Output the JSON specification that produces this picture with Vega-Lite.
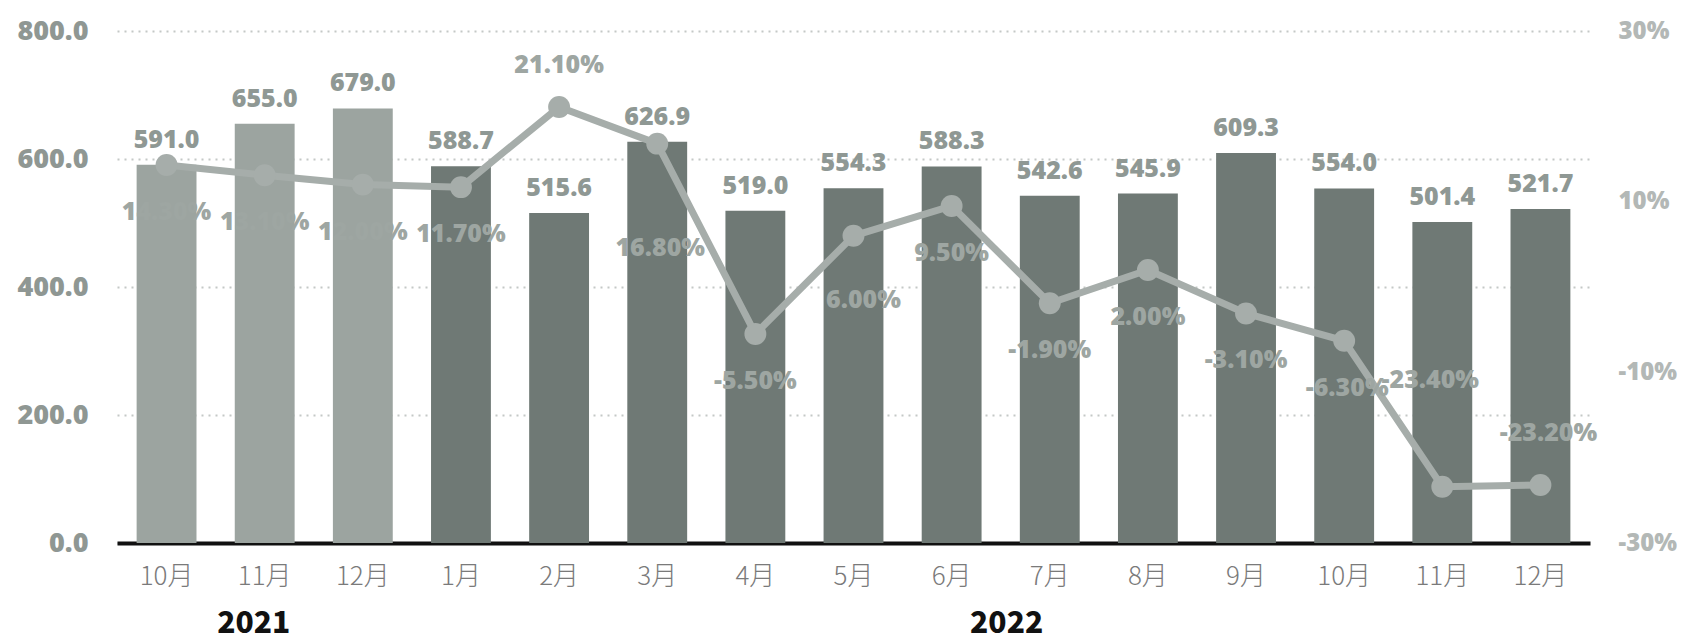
{
  "$schema": "https://vega.github.io/schema/vega-lite/v6.json",
  "width": 1473,
  "height": 512,
  "autosize": {"type": "none"},
  "padding": {"left": 117, "top": 31, "right": 102, "bottom": 99},
  "background": "white",
  "config": {
    "view": {"stroke": null},
    "font": "Open Sans"
  },
  "data": {
    "values": [
      {"key": "2021-10", "sales": 591.0, "pct": 14.3, "pctLabel": "14.30%", "year": "2021"},
      {"key": "2021-11", "sales": 655.0, "pct": 13.1, "pctLabel": "13.10%", "year": "2021"},
      {"key": "2021-12", "sales": 679.0, "pct": 12.0, "pctLabel": "12.00%", "year": "2021"},
      {"key": "2022-01", "sales": 588.7, "pct": 11.7, "pctLabel": "11.70%", "year": "2022"},
      {"key": "2022-02", "sales": 515.6, "pct": 21.1, "pctLabel": "21.10%", "year": "2022"},
      {"key": "2022-03", "sales": 626.9, "pct": 16.8, "pctLabel": "16.80%", "year": "2022"},
      {"key": "2022-04", "sales": 519.0, "pct": -5.5, "pctLabel": "-5.50%", "year": "2022"},
      {"key": "2022-05", "sales": 554.3, "pct": 6.0, "pctLabel": "6.00%", "year": "2022"},
      {"key": "2022-06", "sales": 588.3, "pct": 9.5, "pctLabel": "9.50%", "year": "2022"},
      {"key": "2022-07", "sales": 542.6, "pct": -1.9, "pctLabel": "-1.90%", "year": "2022"},
      {"key": "2022-08", "sales": 545.9, "pct": 2.0, "pctLabel": "2.00%", "year": "2022"},
      {"key": "2022-09", "sales": 609.3, "pct": -3.1, "pctLabel": "-3.10%", "year": "2022"},
      {"key": "2022-10", "sales": 554.0, "pct": -6.3, "pctLabel": "-6.30%", "year": "2022"},
      {"key": "2022-11", "sales": 501.4, "pct": -23.4, "pctLabel": "-23.40%", "year": "2022"},
      {"key": "2022-12", "sales": 521.7, "pct": -23.2, "pctLabel": "-23.20%", "year": "2022"}
    ]
  },
  "layer": [
    {
      "encoding": {
        "x": {
          "field": "key", "type": "nominal", "sort": null,
          "scale": {"paddingInner": 0.39, "paddingOuter": 0.2},
          "axis": {
            "orient": "bottom",
            "title": null,
            "labelAngle": 0,
            "labelExpr": "toNumber(split(datum.value, '-')[1]) + '月'",
            "labelFont": "Noto Sans CJK SC",
            "labelFontWeight": 300,
            "labelFontSize": 26,
            "labelColor": "#7a7a7a",
            "labelPadding": 20,
            "ticks": false,
            "grid": false,
            "domain": true,
            "domainColor": "#111111",
            "domainWidth": 4
          }
        },
        "y": {
          "field": "sales", "type": "quantitative",
          "scale": {"domain": [0, 800]},
          "axis": {
            "title": null,
            "values": [0, 200, 400, 600, 800],
            "format": ".1f",
            "labelFont": "Open Sans",
            "labelFontWeight": 800,
            "labelFontSize": 27,
            "labelColor": "#8f9793",
            "labelPadding": 29,
            "ticks": false,
            "domain": false,
            "grid": true,
            "gridColor": "#c4c8c6",
            "gridDash": [2, 5],
            "gridWidth": 2
          }
        }
      },
      "layer": [
        {
          "mark": {"type": "bar"},
          "encoding": {
            "color": {
              "field": "year", "type": "nominal",
              "scale": {"domain": ["2021", "2022"], "range": ["#9ca4a0", "#6f7975"]},
              "legend": null
            }
          }
        },
        {
          "mark": {"type": "text", "baseline": "alphabetic", "dy": -17, "font": "Open Sans", "fontWeight": 800, "fontSize": 25, "color": "#8f9894"},
          "encoding": {
            "text": {"field": "sales", "type": "quantitative", "format": ".1f"}
          }
        }
      ]
    },
    {
      "encoding": {
        "x": {
          "field": "key", "type": "nominal", "sort": null,
          "axis": {
            "orient": "bottom",
            "title": null,
            "labelAngle": 0,
            "labelExpr": "datum.value == '2021-11' ? '2021' : (datum.value == '2022-06' ? '2022' : '')",
            "labelOffset": {"expr": "datum.value == '2022-06' ? 55 : -11"},
            "labelFont": "Noto Sans CJK SC",
            "labelFontWeight": 900,
            "labelFontSize": 30,
            "labelColor": "#111111",
            "labelPadding": 65,
            "labelOverlap": false,
            "labelBaseline": "top",
            "ticks": false,
            "grid": false,
            "domain": false
          }
        },
        "y": {
          "field": "pct", "type": "quantitative",
          "scale": {"domain": [-30, 30]},
          "axis": {
            "orient": "right",
            "title": null,
            "values": [-30, -10, 10, 30],
            "labelExpr": "datum.value + '%'",
            "labelFont": "Open Sans",
            "labelFontWeight": 800,
            "labelFontSize": 24,
            "labelColor": "#b3b8b6",
            "labelPadding": 28,
            "ticks": false,
            "domain": false,
            "grid": false
          }
        }
      },
      "layer": [
        {
          "mark": {"type": "line", "color": "#a6adaa", "strokeWidth": 7}
        },
        {
          "mark": {"type": "point", "filled": true, "opacity": 1, "color": "#a6adaa", "size": 480, "shape": "circle"}
        },
        {
          "transform": [{"filter": {"field": "key", "oneOf": ["2021-10", "2021-11", "2021-12", "2022-01", "2022-04", "2022-06", "2022-07", "2022-08", "2022-09"]}}],
          "mark": {"type": "text", "baseline": "middle", "dy": 47, "font": "Open Sans", "fontWeight": 800, "fontSize": 25, "color": "#9ea6a2"},
          "encoding": {"text": {"field": "pctLabel"}}
        },
        {
          "transform": [{"filter": {"field": "key", "oneOf": ["2022-10"]}}],
          "mark": {"type": "text", "baseline": "middle", "dy": 47, "dx": 3, "font": "Open Sans", "fontWeight": 800, "fontSize": 25, "color": "#9ea6a2"},
          "encoding": {"text": {"field": "pctLabel"}}
        },
        {
          "transform": [{"filter": {"field": "key", "oneOf": ["2022-02"]}}],
          "mark": {"type": "text", "baseline": "middle", "dy": -42, "font": "Open Sans", "fontWeight": 800, "fontSize": 25, "color": "#9ea6a2"},
          "encoding": {"text": {"field": "pctLabel"}}
        },
        {
          "transform": [{"filter": {"field": "key", "oneOf": ["2022-03"]}}],
          "mark": {"type": "text", "baseline": "middle", "dy": 104, "dx": 3, "font": "Open Sans", "fontWeight": 800, "fontSize": 25, "color": "#9ea6a2"},
          "encoding": {"text": {"field": "pctLabel"}}
        },
        {
          "transform": [{"filter": {"field": "key", "oneOf": ["2022-05"]}}],
          "mark": {"type": "text", "baseline": "middle", "dy": 64, "dx": 10, "font": "Open Sans", "fontWeight": 800, "fontSize": 25, "color": "#9ea6a2"},
          "encoding": {"text": {"field": "pctLabel"}}
        },
        {
          "transform": [{"filter": {"field": "key", "oneOf": ["2022-11"]}}],
          "mark": {"type": "text", "baseline": "middle", "dy": -107, "dx": -12, "font": "Open Sans", "fontWeight": 800, "fontSize": 25, "color": "#9ea6a2"},
          "encoding": {"text": {"field": "pctLabel"}}
        },
        {
          "transform": [{"filter": {"field": "key", "oneOf": ["2022-12"]}}],
          "mark": {"type": "text", "baseline": "middle", "dy": -52, "dx": 8, "font": "Open Sans", "fontWeight": 800, "fontSize": 25, "color": "#9ea6a2"},
          "encoding": {"text": {"field": "pctLabel"}}
        }
      ]
    }
  ],
  "resolve": {"scale": {"y": "independent"}, "axis": {"x": "independent"}}
}
